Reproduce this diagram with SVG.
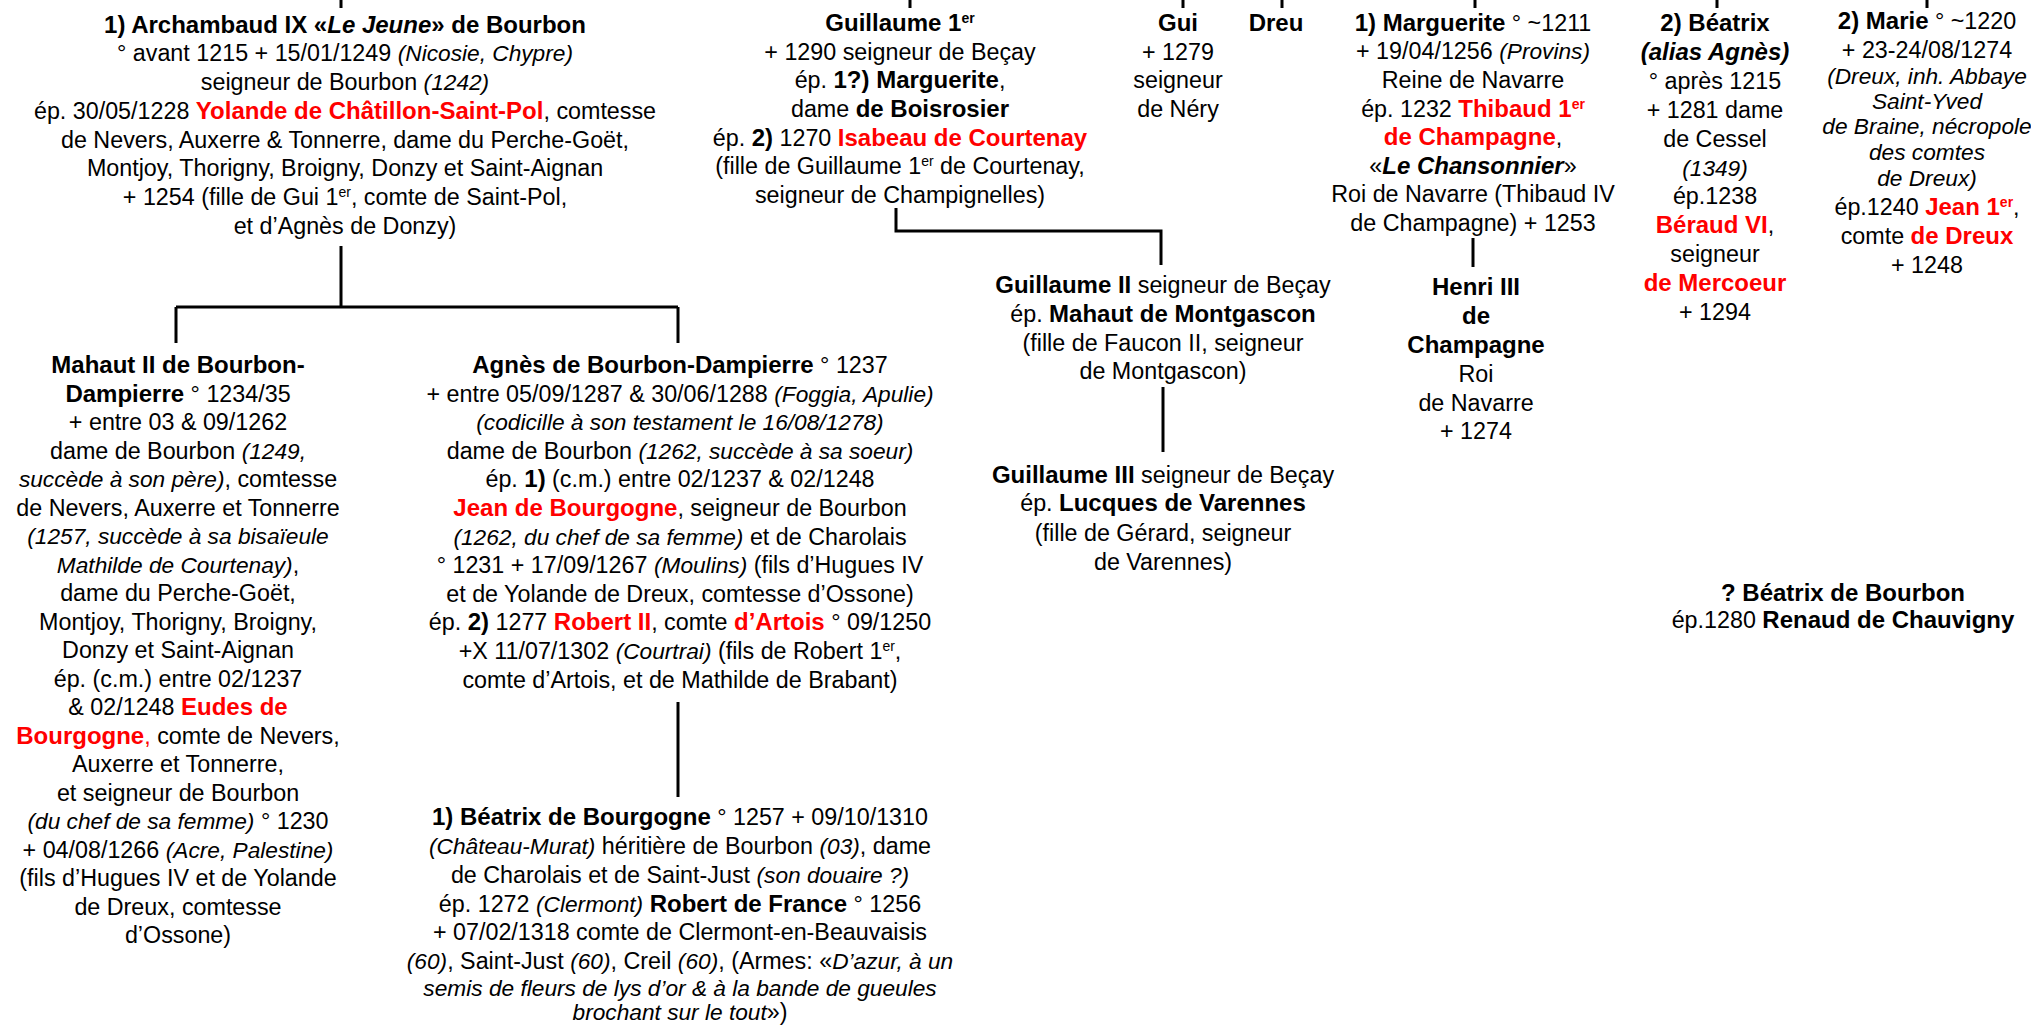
<svg xmlns="http://www.w3.org/2000/svg" width="2031" height="1025" viewBox="0 0 2031 1025">
<style>
text{font-family:"Liberation Sans",Arial,sans-serif;font-size:23.3px;fill:#000;text-anchor:middle}
.b{font-weight:bold;font-size:24px}
.i{font-style:italic;font-size:22.7px}
.bi{font-weight:bold;font-style:italic;font-size:24px}
.r{fill:#ff0000;font-weight:bold;font-size:24px}
.s{font-size:14px}
.ln{stroke:#000;stroke-width:3;fill:none}
</style>
<rect width="2031" height="1025" fill="#fff"/>
<g id="connectors" class="ln">
<path d="M341 0V8M910 0V8M1183 0V8M1282 0V8M1475 0V8M1717 0V8M1927 0V8"/>
<path d="M341 246V307M176 307H678M176 307V343M678 307V343"/>
<path d="M678 702V797"/>
<path d="M896 208V231H1161V265"/>
<path d="M1163 387V452"/>
<path d="M1473 238V267"/>
</g>
<g id="archambaud">
<text x="345" y="33"><tspan class="b">1) Archambaud IX «</tspan><tspan class="bi">Le Jeune</tspan><tspan class="b">» de Bourbon</tspan></text>
<text x="345" y="61">° avant 1215 + 15/01/1249 <tspan class="i">(Nicosie, Chypre)</tspan></text>
<text x="345" y="90">seigneur de Bourbon <tspan class="i">(1242)</tspan></text>
<text x="345" y="119">ép. 30/05/1228 <tspan class="r">Yolande de Châtillon-Saint-Pol</tspan>, comtesse</text>
<text x="345" y="148">de Nevers, Auxerre &amp; Tonnerre, dame du Perche-Goët,</text>
<text x="345" y="176">Montjoy, Thorigny, Broigny, Donzy et Saint-Aignan</text>
<text x="345" y="205">+ 1254 (fille de Gui 1<tspan class="s" dy="-8">er</tspan><tspan dy="8">, comte de Saint-Pol,</tspan></text>
<text x="345" y="234">et d’Agnès de Donzy)</text>
</g>
<g id="guillaume1">
<text x="900" y="31"><tspan class="b">Guillaume 1</tspan><tspan class="b s" dy="-8">er</tspan></text>
<text x="900" y="60">+ 1290 seigneur de Beçay</text>
<text x="900" y="88">ép. <tspan class="b">1?) Marguerite</tspan>,</text>
<text x="900" y="117">dame <tspan class="b">de Boisrosier</tspan></text>
<text x="900" y="146">ép. <tspan class="b">2)</tspan> 1270 <tspan class="r">Isabeau de Courtenay</tspan></text>
<text x="900" y="174">(fille de Guillaume 1<tspan class="s" dy="-8">er</tspan><tspan dy="8"> de Courtenay,</tspan></text>
<text x="900" y="203">seigneur de Champignelles)</text>
</g>
<g id="gui">
<text x="1178" y="31" class="b">Gui</text>
<text x="1178" y="60">+ 1279</text>
<text x="1178" y="88">seigneur</text>
<text x="1178" y="117">de Néry</text>
</g>
<g id="dreu">
<text x="1276" y="31" class="b">Dreu</text>
</g>
<g id="marguerite">
<text x="1473" y="31"><tspan class="b">1) Marguerite</tspan> ° ~1211</text>
<text x="1473" y="59">+ 19/04/1256 <tspan class="i">(Provins)</tspan></text>
<text x="1473" y="88">Reine de Navarre</text>
<text x="1473" y="117">ép. 1232 <tspan class="r">Thibaud 1</tspan><tspan class="r s" dy="-8">er</tspan></text>
<text x="1473" y="145"><tspan class="r">de Champagne</tspan>,</text>
<text x="1473" y="174">«<tspan class="bi">Le Chansonnier</tspan>»</text>
<text x="1473" y="202">Roi de Navarre (Thibaud IV</text>
<text x="1473" y="231">de Champagne) + 1253</text>
</g>
<g id="henri3">
<text x="1476" y="295" class="b">Henri III</text>
<text x="1476" y="324" class="b">de</text>
<text x="1476" y="353" class="b">Champagne</text>
<text x="1476" y="382">Roi</text>
<text x="1476" y="411">de Navarre</text>
<text x="1476" y="439">+ 1274</text>
</g>
<g id="beatrix2">
<text x="1715" y="31" class="b">2) Béatrix</text>
<text x="1715" y="60" class="bi">(alias Agnès)</text>
<text x="1715" y="89">° après 1215</text>
<text x="1715" y="118">+ 1281 dame</text>
<text x="1715" y="147">de Cessel</text>
<text x="1715" y="176" class="i">(1349)</text>
<text x="1715" y="204">ép.1238</text>
<text x="1715" y="233"><tspan class="r">Béraud VI</tspan>,</text>
<text x="1715" y="262">seigneur</text>
<text x="1715" y="291" class="r">de Mercoeur</text>
<text x="1715" y="320">+ 1294</text>
</g>
<g id="marie">
<text x="1927" y="29"><tspan class="b">2) Marie</tspan> ° ~1220</text>
<text x="1927" y="58">+ 23-24/08/1274</text>
<text x="1927" y="84" class="i">(Dreux, inh. Abbaye</text>
<text x="1927" y="109" class="i">Saint-Yved</text>
<text x="1927" y="134" class="i">de Braine, nécropole</text>
<text x="1927" y="160" class="i">des comtes</text>
<text x="1927" y="186" class="i">de Dreux)</text>
<text x="1927" y="215">ép.1240 <tspan class="r">Jean 1</tspan><tspan class="r s" dy="-8">er</tspan><tspan dy="8">,</tspan></text>
<text x="1927" y="244">comte <tspan class="r">de Dreux</tspan></text>
<text x="1927" y="273">+ 1248</text>
</g>
<g id="mahaut">
<text x="178" y="373" class="b">Mahaut II de Bourbon-</text>
<text x="178" y="401.5"><tspan class="b">Dampierre</tspan> ° 1234/35</text>
<text x="178" y="430">+ entre 03 &amp; 09/1262</text>
<text x="178" y="458.5">dame de Bourbon <tspan class="i">(1249,</tspan></text>
<text x="178" y="487"><tspan class="i">succède à son père)</tspan>, comtesse</text>
<text x="178" y="515.5">de Nevers, Auxerre et Tonnerre</text>
<text x="178" y="544" class="i">(1257, succède à sa bisaïeule</text>
<text x="178" y="572.5"><tspan class="i">Mathilde de Courtenay)</tspan>,</text>
<text x="178" y="601">dame du Perche-Goët,</text>
<text x="178" y="629.5">Montjoy, Thorigny, Broigny,</text>
<text x="178" y="658">Donzy et Saint-Aignan</text>
<text x="178" y="686.5">ép. (c.m.) entre 02/1237</text>
<text x="178" y="715">&amp; 02/1248 <tspan class="r">Eudes de</tspan></text>
<text x="178" y="743.5"><tspan class="r">Bourgogne</tspan><tspan fill="#ff0000">,</tspan> comte de Nevers,</text>
<text x="178" y="772">Auxerre et Tonnerre,</text>
<text x="178" y="800.5">et seigneur de Bourbon</text>
<text x="178" y="829"><tspan class="i">(du chef de sa femme)</tspan> ° 1230</text>
<text x="178" y="857.5">+ 04/08/1266 <tspan class="i">(Acre, Palestine)</tspan></text>
<text x="178" y="886">(fils d’Hugues IV et de Yolande</text>
<text x="178" y="914.5">de Dreux, comtesse</text>
<text x="178" y="943">d’Ossone)</text>
</g>
<g id="agnes">
<text x="680" y="373"><tspan class="b">Agnès de Bourbon-Dampierre</tspan> ° 1237</text>
<text x="680" y="401.6">+ entre 05/09/1287 &amp; 30/06/1288 <tspan class="i">(Foggia, Apulie)</tspan></text>
<text x="680" y="430.2" class="i">(codicille à son testament le 16/08/1278)</text>
<text x="680" y="458.8">dame de Bourbon <tspan class="i">(1262, succède à sa soeur)</tspan></text>
<text x="680" y="487.4">ép. <tspan class="b">1)</tspan> (c.m.) entre 02/1237 &amp; 02/1248</text>
<text x="680" y="516"><tspan class="r">Jean de Bourgogne</tspan>, seigneur de Bourbon</text>
<text x="680" y="544.6"><tspan class="i">(1262, du chef de sa femme)</tspan> et de Charolais</text>
<text x="680" y="573.2">° 1231 + 17/09/1267 <tspan class="i">(Moulins)</tspan> (fils d’Hugues IV</text>
<text x="680" y="601.8">et de Yolande de Dreux, comtesse d’Ossone)</text>
<text x="680" y="630.4">ép. <tspan class="b">2)</tspan> 1277 <tspan class="r">Robert II</tspan>, comte <tspan class="r">d’Artois</tspan> ° 09/1250</text>
<text x="680" y="659">+X 11/07/1302 <tspan class="i">(Courtrai)</tspan> (fils de Robert 1<tspan class="s" dy="-8">er</tspan><tspan dy="8">,</tspan></text>
<text x="680" y="687.6">comte d’Artois, et de Mathilde de Brabant)</text>
</g>
<g id="beatrix-bourgogne">
<text x="680" y="825"><tspan class="b">1) Béatrix de Bourgogne</tspan> ° 1257 + 09/10/1310</text>
<text x="680" y="854"><tspan class="i">(Château-Murat)</tspan> héritière de Bourbon <tspan class="i">(03)</tspan>, dame</text>
<text x="680" y="883">de Charolais et de Saint-Just <tspan class="i">(son douaire ?)</tspan></text>
<text x="680" y="912">ép. 1272 <tspan class="i">(Clermont)</tspan> <tspan class="b">Robert de France</tspan> ° 1256</text>
<text x="680" y="940">+ 07/02/1318 comte de Clermont-en-Beauvaisis</text>
<text x="680" y="969"><tspan class="i">(60)</tspan>, Saint-Just <tspan class="i">(60)</tspan>, Creil <tspan class="i">(60)</tspan>, (Armes: «<tspan class="i">D’azur, à un</tspan></text>
<text x="680" y="996" class="i">semis de fleurs de lys d’or &amp; à la bande de gueules</text>
<text x="680" y="1020"><tspan class="i">brochant sur le tout</tspan>»)</text>
</g>
<g id="guillaume2">
<text x="1163" y="293"><tspan class="b">Guillaume II</tspan> seigneur de Beçay</text>
<text x="1163" y="322">ép. <tspan class="b">Mahaut de Montgascon</tspan></text>
<text x="1163" y="351">(fille de Faucon II, seigneur</text>
<text x="1163" y="379">de Montgascon)</text>
</g>
<g id="guillaume3">
<text x="1163" y="483"><tspan class="b">Guillaume III</tspan> seigneur de Beçay</text>
<text x="1163" y="511">ép. <tspan class="b">Lucques de Varennes</tspan></text>
<text x="1163" y="541">(fille de Gérard, seigneur</text>
<text x="1163" y="570">de Varennes)</text>
</g>
<g id="beatrix-bourbon">
<text x="1843" y="601" class="b">? Béatrix de Bourbon</text>
<text x="1843" y="628">ép.1280 <tspan class="b">Renaud de Chauvigny</tspan></text>
</g>
</svg>
